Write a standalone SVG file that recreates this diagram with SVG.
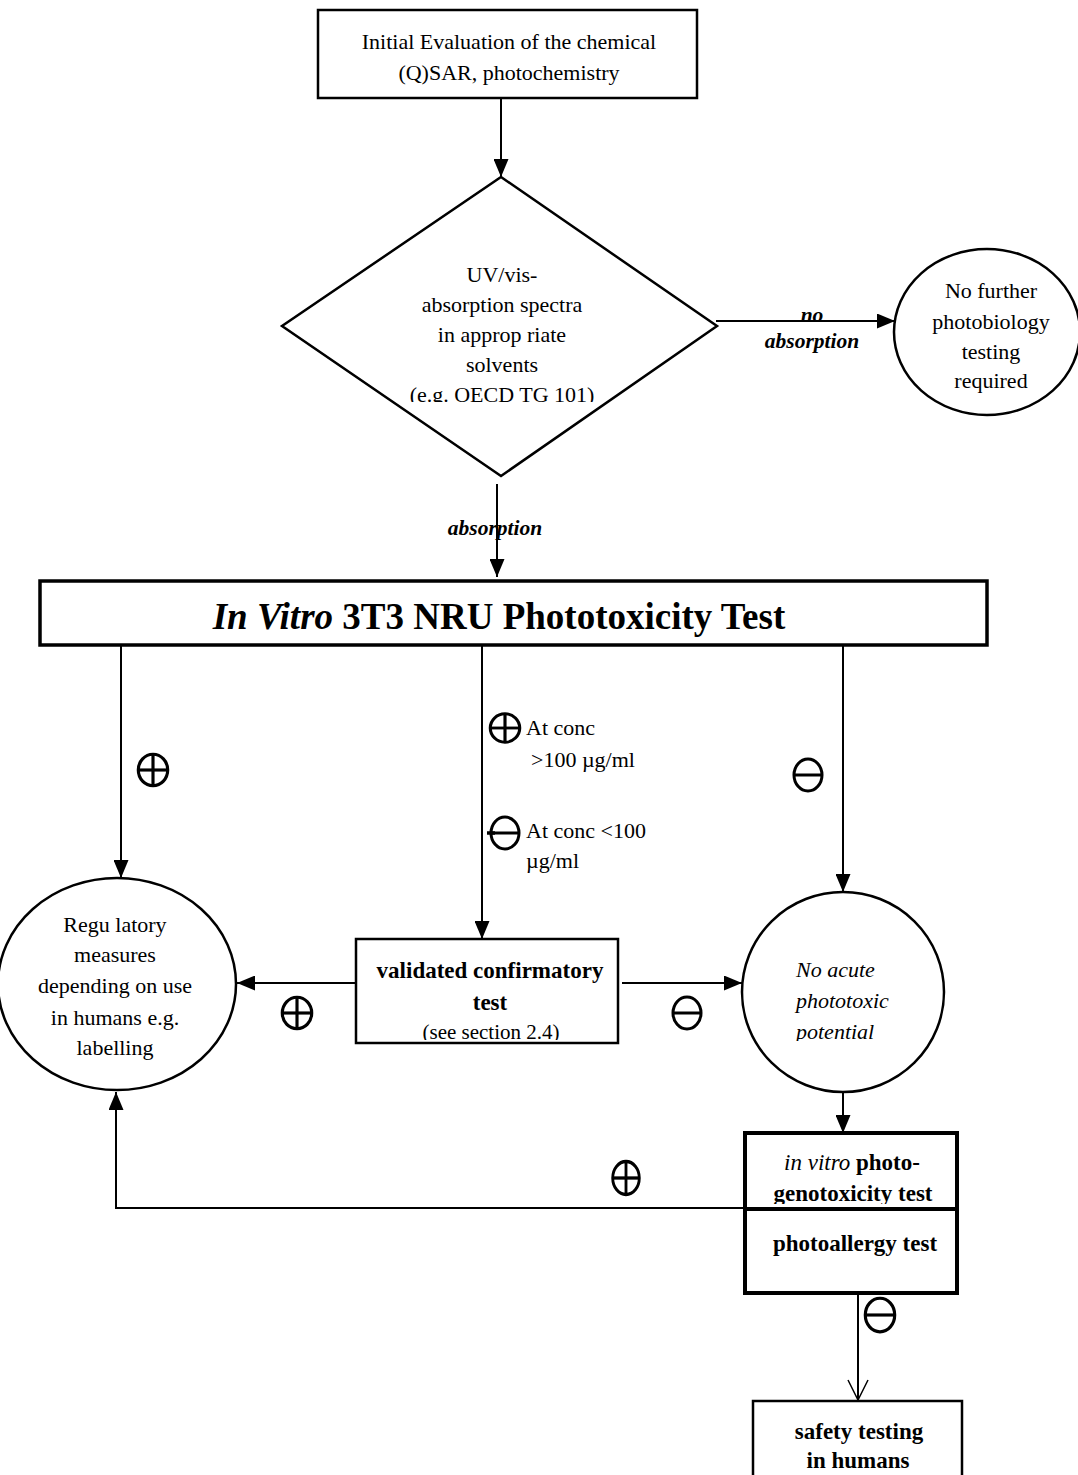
<svg xmlns="http://www.w3.org/2000/svg" width="1078" height="1475" viewBox="0 0 1078 1475">
<style>
.t{font-family:"Liberation Serif","Times New Roman",serif;font-size:22px;fill:#000}
.m{text-anchor:middle}
.b{font-weight:bold;font-size:23px}
.i{font-style:italic}
.lb{font-weight:bold;font-style:italic;font-size:21.5px}
.s{fill:#fff;stroke:#000;stroke-width:2.5}
.k{fill:#fff;stroke:#000;stroke-width:4}
.c{fill:none;stroke:#000;stroke-width:2}
.sym{fill:none;stroke:#000;stroke-width:3}
</style>
<defs>
<marker id="ah" viewBox="0 0 18 15" refX="18" refY="7.5" markerWidth="18" markerHeight="15" markerUnits="userSpaceOnUse" orient="auto">
<path d="M0,0 L18,7.5 L0,15 z" fill="#000"/>
</marker>
<marker id="oh" viewBox="0 0 22 22" refX="21" refY="11" markerWidth="22" markerHeight="22" markerUnits="userSpaceOnUse" orient="auto">
<path d="M1,1 L21,11 L1,21" fill="none" stroke="#000" stroke-width="1.5"/>
</marker>
<g id="oplus" class="sym"><ellipse rx="14" ry="15"/><line x1="0" y1="-15" x2="0" y2="15"/><line x1="-14" y1="0" x2="14" y2="0"/></g>
<g id="ominus" class="sym"><ellipse rx="14" ry="16"/><line x1="-14" y1="0" x2="14" y2="0"/></g>
<clipPath id="cd"><rect x="280" y="170" width="440" height="232"/></clipPath>
<clipPath id="cc"><rect x="356" y="939" width="262" height="101"/></clipPath>
<clipPath id="cr"><rect x="740" y="880" width="210" height="161"/></clipPath>
<clipPath id="cg"><rect x="745" y="1133" width="212" height="71"/></clipPath>
</defs>

<g id="connectors">
<line class="c" x1="501" y1="98" x2="501" y2="177" marker-end="url(#ah)"/>
<line class="c" x1="716" y1="321" x2="895" y2="321" marker-end="url(#ah)"/>
<line class="c" x1="497" y1="484" x2="497" y2="577" marker-end="url(#ah)"/>
<line class="c" x1="121" y1="645" x2="121" y2="878" marker-end="url(#ah)"/>
<line class="c" x1="482" y1="645" x2="482" y2="939" marker-end="url(#ah)"/>
<line class="c" x1="843" y1="645" x2="843" y2="892" marker-end="url(#ah)"/>
<line class="c" x1="356" y1="983" x2="237" y2="983" marker-end="url(#ah)"/>
<line class="c" x1="622" y1="983" x2="742" y2="983" marker-end="url(#ah)"/>
<line class="c" x1="843" y1="1093" x2="843" y2="1133" marker-end="url(#ah)"/>
<path class="c" d="M745,1208 H116 V1092" marker-end="url(#ah)"/>
<line class="c" x1="858" y1="1293" x2="858" y2="1400" marker-end="url(#oh)"/>
</g>

<g id="labels">
<text class="t lb m" x="812" y="322">no</text>
<text class="t lb m" x="812" y="348">absorption</text>
<text class="t lb m" x="495" y="535">absorption</text>
<use href="#oplus" transform="translate(153,770) scale(1.05)"/>
<use href="#oplus" transform="translate(505,728) scale(1.05,0.95)" style="stroke-width:4"/>
<text class="t" x="526" y="735">At conc</text>
<text class="t" x="531" y="767">&gt;100 µg/ml</text>
<use href="#ominus" transform="translate(505,833)" style="stroke-width:3.5"/>
<line x1="487" y1="833" x2="495" y2="833" stroke="#000" stroke-width="3.5"/>
<text class="t" x="526" y="838">At conc &lt;100</text>
<text class="t" x="526" y="868">µg/ml</text>
<use href="#ominus" transform="translate(808,775)"/>
<use href="#oplus" transform="translate(297,1013) scale(1.05)"/>
<use href="#ominus" transform="translate(687,1013)"/>
<use href="#oplus" transform="translate(626,1178) scale(0.95,1.1)"/>
<use href="#ominus" transform="translate(880,1315) scale(1.05)"/>
</g>

<g id="initial">
<rect class="s" x="318" y="10" width="379" height="88"/>
<text class="t m" x="509" y="49">Initial Evaluation of the chemical</text>
<text class="t m" x="509" y="80">(Q)SAR, photochemistry</text>
</g>

<g id="uvvis">
<polygon class="s" points="501,177 717,326 501,476 282,326"/>
<g clip-path="url(#cd)">
<text class="t m" x="502" y="282">UV/vis-</text>
<text class="t m" x="502" y="312">absorption spectra</text>
<text class="t m" x="502" y="342">in approp riate</text>
<text class="t m" x="502" y="372">solvents</text>
<text class="t m" x="502" y="402">(e.g. OECD TG 101)</text>
</g>
</g>

<g id="nofurther">
<ellipse class="s" cx="987" cy="332" rx="93" ry="83"/>
<text class="t m" x="991" y="298">No further</text>
<text class="t m" x="991" y="329">photobiology</text>
<text class="t m" x="991" y="359">testing</text>
<text class="t m" x="991" y="388">required</text>
</g>

<g id="nru">
<rect x="40" y="581" width="947" height="64" fill="#fff" stroke="#000" stroke-width="3.5"/>
<text class="t m" x="499" y="629" style="font-size:37px;font-weight:bold"><tspan style="font-style:italic">In Vitro</tspan> 3T3 NRU Phototoxicity Test</text>
</g>

<g id="regulatory">
<ellipse class="s" cx="117" cy="984" rx="119" ry="106"/>
<text class="t m" x="115" y="932">Regu latory</text>
<text class="t m" x="115" y="962">measures</text>
<text class="t m" x="115" y="993">depending on use</text>
<text class="t m" x="115" y="1025">in humans e.g.</text>
<text class="t m" x="115" y="1055">labelling</text>
</g>

<g id="confirmatory">
<rect class="s" x="356" y="939" width="262" height="104"/>
<g clip-path="url(#cc)">
<text class="t b m" x="490" y="978">validated confirmatory</text>
<text class="t b m" x="490" y="1010">test</text>
<text class="t m" x="491" y="1039" style="font-size:21px">(see section 2.4)</text>
</g>
</g>

<g id="noacute">
<ellipse class="s" cx="843" cy="992" rx="101" ry="100"/>
<g clip-path="url(#cr)">
<text class="t i" x="796" y="977">No acute</text>
<text class="t i" x="796" y="1008">phototoxic</text>
<text class="t i" x="796" y="1039">potential</text>
</g>
</g>

<g id="phototests">
<rect class="k" x="745" y="1133" width="212" height="160"/>
<line x1="745" y1="1209" x2="957" y2="1209" stroke="#000" stroke-width="4"/>
<g clip-path="url(#cg)">
<text class="t b m" x="852" y="1170"><tspan style="font-style:italic;font-weight:normal">in vitro</tspan> photo-</text>
<text class="t b m" x="853" y="1201">genotoxicity test</text>
</g>
<text class="t b m" x="855" y="1251">photoallergy test</text>
</g>

<g id="safety">
<rect class="s" x="753" y="1401" width="209" height="90"/>
<text class="t b m" x="859" y="1439">safety testing</text>
<text class="t b m" x="858" y="1468">in humans</text>
</g>
</svg>
